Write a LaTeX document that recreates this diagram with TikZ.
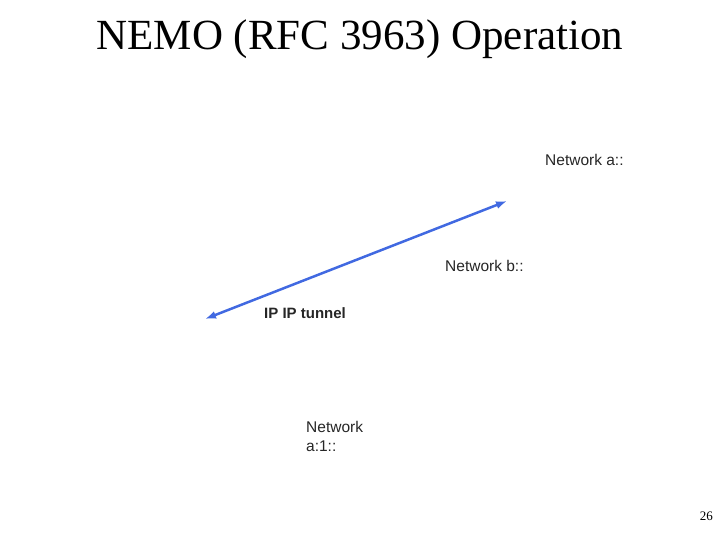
\documentclass[tikz,border=0pt]{standalone}
\usepackage{fontspec}
\setmainfont{Liberation Serif}
\newfontfamily\lsans{Liberation Sans}
\usetikzlibrary{arrows.meta}
\definecolor{arrowblue}{RGB}{65,105,225}
\begin{document}
\begin{tikzpicture}[x=1pt,y=-1pt,
  lbl/.style={font=\lsans\fontsize{15.5}{19}\selectfont,color=black!85,inner sep=0pt,anchor=west,align=left}]
\useasboundingbox (0,0) rectangle (720,540);
\node (title) at (360,39) {\fontsize{43}{48}\selectfont NEMO (RFC 3963) Operation};
\node[lbl] (na) at (545,160) {Network a::};
\node[lbl] (nb) at (445,266) {Network b::};
\node[lbl,font=\lsans\bfseries\fontsize{15}{19}\selectfont] (tun) at (264,313) {IP IP tunnel};
\node[lbl] (na1) at (306,436) {Network\\a:1::};
\node[font=\fontsize{13}{15}\selectfont,anchor=east,inner sep=0pt] (pg) at (713,516) {26};
\coordinate (p1) at (507,201);
\coordinate (p2) at (205,319);
\draw[arrowblue,line width=2.5pt,{Latex[length=11pt,width=8pt]}-{Latex[length=11pt,width=8pt]}] (p2) -- (p1);
\end{tikzpicture}
\end{document}
